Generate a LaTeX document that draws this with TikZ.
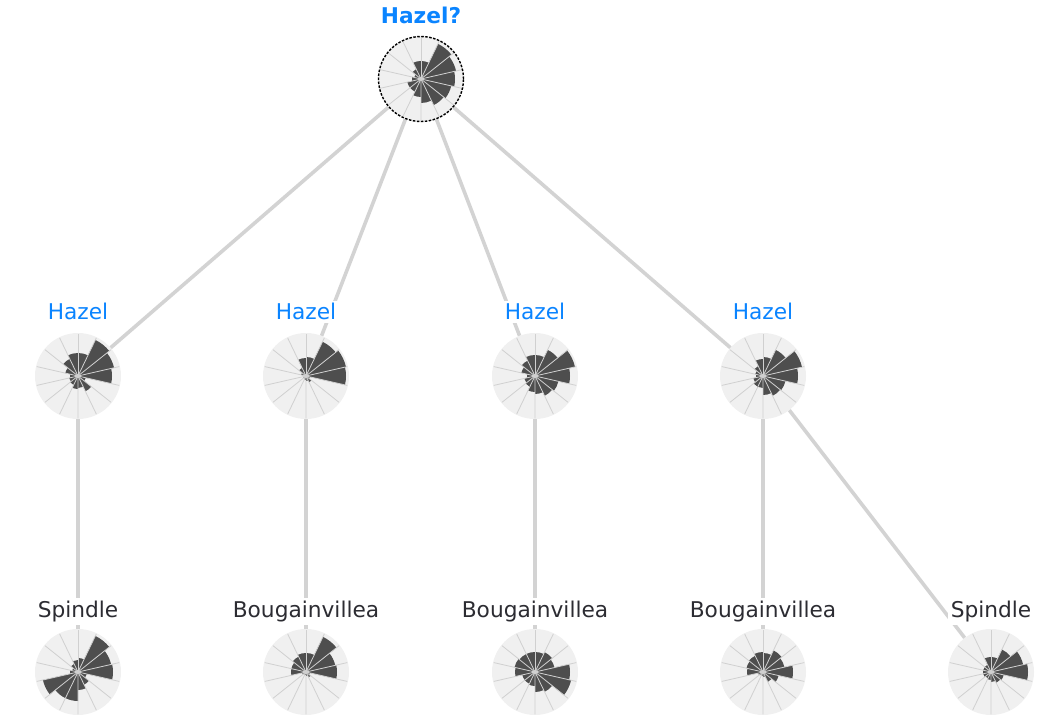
\documentclass[tikz,border=0pt]{standalone}
\usepackage{fontspec}
\setmainfont{DejaVu Sans}
\definecolor{labblue}{RGB}{10,132,255}
\definecolor{labdark}{RGB}{44,44,50}
\definecolor{edgegray}{RGB}{211,211,211}
\definecolor{rosebgc}{RGB}{240,240,240}
\definecolor{barc}{RGB}{78,78,78}
\definecolor{spokec}{RGB}{208,208,208}
\newcommand{\roseplot}[2]{%
  \foreach \r [count=\i from 0] in {#2} {%
    \pgfmathsetmacro\a{\i*360/14-12.857}%
    \fill[barc] (#1.center) -- ++(\a:\r pt) arc[start angle=\a, delta angle=25.714, radius=\r pt] -- cycle;%
  }%
  \foreach \k in {0,...,13} {%
    \draw[spoke] (#1.center) -- ++(90+\k*25.714:42.3pt);%
  }%
  \fill[spokec] (#1.center) circle[radius=2pt];%
}
\begin{document}
\begin{tikzpicture}[x=1pt,y=1pt,
  rosebg/.style={circle,fill=rosebgc,minimum size=86pt,inner sep=0pt},
  spoke/.style={draw=spokec,line width=0.8pt},
  link/.style={draw=edgegray,line width=3.6pt},
  lab/.style={fill=white,inner sep=3pt,anchor=base,font=\fontsize{21.7pt}{26pt}\selectfont},
  qlab/.style={lab,text=labblue,font=\fontsize{21.7pt}{26pt}\selectfont\bfseries},
  hlab/.style={lab,text=labblue},
  slab/.style={lab,text=labdark}]
\useasboundingbox (0,0) rectangle (1048,726);
% rose nodes
\node[rosebg] (t) at (421,647) {};
\node[rosebg] (m1) at (78,350) {};
\node[rosebg] (m2) at (306,350) {};
\node[rosebg] (m3) at (535,350) {};
\node[rosebg] (m4) at (763,350) {};
\node[rosebg] (b1) at (78,54) {};
\node[rosebg] (b2) at (306,54) {};
\node[rosebg] (b3) at (535,54) {};
\node[rosebg] (b4) at (763,54) {};
\node[rosebg] (b5) at (991,54) {};
% connectors
\draw[link] (t) -- (m1);
\draw[link] (t) -- (m2);
\draw[link] (t) -- (m3);
\draw[link] (t) -- (m4);
\draw[link] (m1) -- (b1);
\draw[link] (m2) -- (b2);
\draw[link] (m3) -- (b3);
\draw[link] (m4) -- (b4);
\draw[link] (m4) -- (b5);
% roses
\roseplot{t}{34,36,39,18,18,11,7,9,14,14,18,24,29,31}
\roseplot{m1}{34,37,40,23,23,19,13,8,9,10,13,12,17,8}
\roseplot{m2}{40,41,38,19,18,9,5,3,3,3,4,5,7,4}
\roseplot{m3}{35,41,29,21,21,17,14,8,11,12,16,18,22,24}
\roseplot{m4}{35,40,29,19,17,11,8,7,10,12,12,19,22,23}
\roseplot{b1}{35,34,40,14,12,9,6,8,36,29,29,18,14,9}
\roseplot{b2}{31,30,39,19,19,17,15,15,4,3,3,4,6,4}
\roseplot{b3}{35,20,22,20,20,20,21,20,13,13,14,20,22,37}
\roseplot{b4}{30,22,24,19,20,18,17,16,5,4,4,5,11,16}
\roseplot{b5}{37,33,25,15,15,8,8,8,8,7,8,10,12,13}
\draw[black,line width=1.4pt,dash pattern=on 2.5pt off 1.5pt] (t.center) circle[radius=42.5pt];
% labels
\node[qlab] (tl) at (421,702) {Hazel?};
\node[hlab] (m1l) at (78,406) {Hazel};
\node[hlab] (m2l) at (306,406) {Hazel};
\node[hlab] (m3l) at (535,406) {Hazel};
\node[hlab] (m4l) at (763,406) {Hazel};
\node[slab] (b1l) at (78,109) {Spindle};
\node[slab] (b2l) at (306,109) {Bougainvillea};
\node[slab] (b3l) at (535,109) {Bougainvillea};
\node[slab] (b4l) at (763,109) {Bougainvillea};
\node[slab] (b5l) at (991,109) {Spindle};
\end{tikzpicture}
\end{document}
